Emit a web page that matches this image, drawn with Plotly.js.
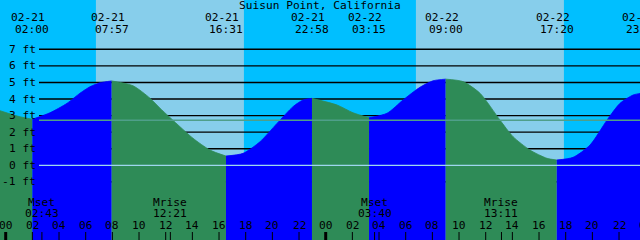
<!DOCTYPE html>
<html><head><meta charset="utf-8">
<script src="https://cdn.plot.ly/plotly-3.0.1.min.js"></script>
<style>html,body{margin:0;padding:0;overflow:hidden;background:#00BFFF}#chart{width:700px;height:240px}</style>
</head><body><div id="chart"></div>
<script>
// ---- data ----
const stationName = 'Suisun Point, California';
// hours since 02-21 00:00 and tide height in feet
const tideHours = [-0.45, 1.07, 2.00, 3.32, 4.60, 5.57, 6.32, 7.07, 7.95, 9.55, 10.82, 11.57, 13.07, 14.05, 15.32, 16.52, 17.80, 19.07, 20.35, 21.55, 22.30, 22.97, 24.85, 26.05, 27.25, 28.60, 29.80, 31.07, 32.05, 33.00, 34.30, 35.57, 37.07, 38.05, 39.32, 40.60, 41.33, 42.55, 43.82, 45.10, 46.07, 47.05, 47.57, 47.77];
const tideFeet  = [3.30, 2.93, 2.78, 3.17, 3.74, 4.35, 4.74, 4.98, 5.09, 4.80, 4.05, 3.45, 2.33, 1.63, 0.92, 0.56, 0.72, 1.42, 2.53, 3.54, 3.94, 4.04, 3.64, 3.17, 2.87, 3.14, 3.94, 4.71, 5.10, 5.20, 5.05, 4.35, 2.73, 1.73, 0.92, 0.42, 0.32, 0.48, 1.22, 2.73, 3.74, 4.24, 4.34, 4.38];
const tideEventDates = ['02-21', '02-21', '02-21', '02-21', '02-22', '02-22', '02-22', '02-22'];
const tideEventTimes = ['02:00', '07:57', '16:31', '22:58', '03:15', '09:00', '17:20', '23:46'];
const sunriseDates = ['02-21', '02-22'];
const sunriseTimes = ['06:46', '06:46'];
const sunsetDates = ['02-21', '02-22'];
const sunsetTimes = ['17:52', '17:52'];
const moonEventNames = ['Mset', 'Mrise', 'Mset', 'Mrise'];
const moonEventDates = ['02-21', '02-21', '02-22', '02-22'];
const moonEventTimes = ['02:43', '12:21', '03:40', '13:11'];
const midnightHours = [0, 24, 48];
const hourTickValues = [0, 2, 4, 6, 8, 10, 12, 14, 16, 18, 20, 22, 24, 26, 28, 30, 32, 34, 36, 38, 40, 42, 44, 46, 48];
const hourTickLabels = ['00', '02', '04', '06', '08', '10', '12', '14', '16', '18', '20', '22', '00', '02', '04', '06', '08', '10', '12', '14', '16', '18', '20', '22', '00'];
const depthTickValues = [7, 6, 5, 4, 3, 2, 1, 0, -1];
const depthTickLabels = ['7 ft', '6 ft', '5 ft', '4 ft', '3 ft', '2 ft', '1 ft', '0 ft', '-1 ft'];
const meanSeaLevel = 2.72;

// ---- styles ----
const W = 700, H = 240;
const C = {night: '#00BFFF', day: '#87CEEB', flood: '#0000FF', ebb: '#2E8B57', datum: '#9ED6EE', msl: '#4F9F8A', fg: '#000000'};
const FONT = {family: 'DejaVu Sans Mono, monospace', size: 11.2, color: C.fg};
const X_RANGE = [-0.4275, -0.4275 + W / 13.3333];
const Y_RANGE = [-4.508, 9.976];
const BOTTOM = -6;

function toHours(date, time) {
  const day = parseInt(date.split('-')[1], 10) - 21;
  const [h, m] = time.split(':').map(Number);
  return day * 24 + h + m / 60;
}
const px = p => p / H;
const fromTop = p => 1 - p / H;

// ---- tide fill segments (split at local extremes) ----
const cuts = [0];
for (let i = 1; i < tideFeet.length - 1; i++) {
  if ((tideFeet[i] - tideFeet[i - 1]) * (tideFeet[i + 1] - tideFeet[i]) < 0) cuts.push(i);
}
cuts.push(tideFeet.length - 1);
const traces = [];
for (let k = 0; k < cuts.length - 1; k++) {
  const xs = tideHours.slice(cuts[k], cuts[k + 1] + 1);
  const ys = tideFeet.slice(cuts[k], cuts[k + 1] + 1);
  const col = ys[ys.length - 1] > ys[0] ? C.flood : C.ebb;
  traces.push({x: xs, y: xs.map(() => BOTTOM), mode: 'lines', line: {width: 0}, hoverinfo: 'skip', showlegend: false});
  traces.push({x: xs, y: ys, mode: 'lines', line: {width: 0.8, color: col, shape: 'spline', smoothing: 0.7}, fill: 'tonexty', fillcolor: col, hoverinfo: 'skip', showlegend: false});
}

// ---- shapes ----
const shapes = [];
for (let i = 0; i < sunriseTimes.length; i++) {
  shapes.push({type: 'rect', layer: 'below', xref: 'x', yref: 'paper', x0: toHours(sunriseDates[i], sunriseTimes[i]), x1: toHours(sunsetDates[i], sunsetTimes[i]), y0: 0, y1: 1, fillcolor: C.day, line: {width: 0}});
}
depthTickValues.forEach(v => {
  if (v !== 0) shapes.push({type: 'line', layer: 'below', xref: 'paper', yref: 'y', x0: 39 / W, x1: 1, y0: v, y1: v, line: {color: C.fg, width: 1.4}});
});
shapes.push({type: 'line', layer: 'above', xref: 'paper', yref: 'y', x0: 39 / W, x1: 1, y0: 0, y1: 0, line: {color: C.datum, width: 1.3}});
shapes.push({type: 'line', layer: 'above', xref: 'paper', yref: 'y', x0: 39 / W, x1: 1, y0: meanSeaLevel, y1: meanSeaLevel, line: {color: C.msl, width: 1.3}});
hourTickValues.forEach(v => {
  const thick = midnightHours.includes(v);
  shapes.push({type: 'line', layer: 'above', xref: 'x', yref: 'paper', x0: v, x1: v, y0: 0, y1: px(8), line: {color: C.fg, width: thick ? 3 : 1}});
});
moonEventTimes.forEach((t, i) => {
  const h = toHours(moonEventDates[i], t);
  shapes.push({type: 'line', layer: 'above', xref: 'x', yref: 'paper', x0: h, x1: h, y0: 0, y1: px(8), line: {color: C.fg, width: 1}});
});

// ---- annotations ----
const ann = [];
const txt = (o) => Object.assign({showarrow: false, font: FONT, borderpad: 0, xanchor: 'center', yanchor: 'middle'}, o);
ann.push(txt({text: stationName, xref: 'paper', yref: 'paper', x: 320 / W, y: fromTop(5.7)}));
tideEventTimes.forEach((t, i) => {
  const h = toHours(tideEventDates[i], t);
  ann.push(txt({text: tideEventDates[i], xref: 'x', yref: 'paper', x: h, xshift: -4, y: fromTop(17.5)}));
  ann.push(txt({text: t, xref: 'x', yref: 'paper', x: h, y: fromTop(29.5)}));
});
depthTickValues.forEach((v, i) => {
  ann.push(txt({text: depthTickLabels[i], xref: 'paper', yref: 'y', x: 37 / W, xanchor: 'right', y: v}));
});
hourTickValues.forEach((v, i) => {
  ann.push(txt({text: hourTickLabels[i], xref: 'x', yref: 'paper', x: v, y: fromTop(225)}));
});
moonEventTimes.forEach((t, i) => {
  const h = toHours(moonEventDates[i], t);
  ann.push(txt({text: moonEventNames[i], xref: 'x', yref: 'paper', x: h, y: fromTop(202.5)}));
  ann.push(txt({text: t, xref: 'x', yref: 'paper', x: h, y: fromTop(213.5)}));
});

const layout = {
  width: W, height: H,
  margin: {l: 0, r: 0, t: 0, b: 0, pad: 0},
  paper_bgcolor: C.night, plot_bgcolor: C.night,
  xaxis: {range: X_RANGE, visible: false, fixedrange: true},
  yaxis: {range: Y_RANGE, visible: false, fixedrange: true},
  showlegend: false,
  shapes: shapes,
  annotations: ann
};
Plotly.newPlot('chart', traces, layout, {staticPlot: true, displayModeBar: false});
</script></body></html>
